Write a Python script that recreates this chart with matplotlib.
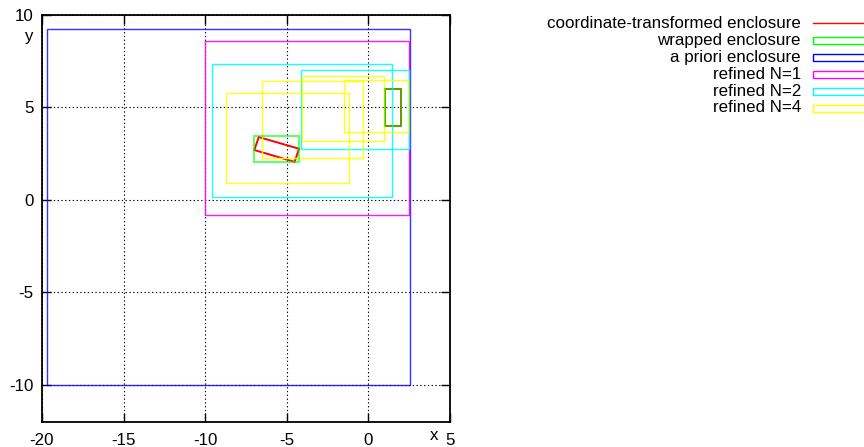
import matplotlib
matplotlib.use("Agg")
import matplotlib.pyplot as plt
from matplotlib.patches import Rectangle, Polygon

plt.rcParams['font.family'] = ['Liberation Sans', 'DejaVu Sans']
plt.rcParams['axes.unicode_minus'] = False

# ---- data (xmin, xmax, ymin, ymax) ----
transformed_x = [[-6.72, -4.25, -4.52, -6.99], [1.0, 2.0, 2.0, 1.0]]
transformed_y = [[3.39, 2.76, 2.05, 2.69], [6.0, 6.0, 4.0, 4.0]]
wrapped = [[-7.01, -4.23, 2.02, 3.43], [1.0, 2.0, 4.0, 6.0]]
apriori = [[-19.7, 2.55, -10.0, 9.25]]
refined1 = [[-10.0, 2.5, -0.83, 8.56]]
refined2 = [[-9.6, 1.43, 0.15, 7.35], [-4.11, 2.5, 2.76, 7.0]]
refined4 = [[-8.71, -1.21, 0.89, 5.75], [-6.5, -0.31, 2.25, 6.43],
            [-4.05, 0.96, 3.16, 6.7], [-1.48, 2.41, 3.64, 6.47]]

labels = ["coordinate-transformed enclosure", "wrapped enclosure",
          "a priori enclosure", "refined N=1", "refined N=2", "refined N=4"]
colors = ["#ff0000", "#00ff00", "#0000ff", "#ff00ff", "#00ffff", "#ffff00"]

xticks = [-20, -15, -10, -5, 0, 5]
yticks = [-10, -5, 0, 5, 10]
xlim = (-20, 5)
ylim = (-12, 10)

FS = 12.2
W, H = 864, 447
fig = plt.figure(figsize=(W / 100, H / 100), dpi=100)
ax = fig.add_axes([42 / W, 1 - 422 / H, 408 / W, (422 - 14.7) / H])
ax.set_xlim(*xlim)
ax.set_ylim(*ylim)
ax.set_xticks(xticks)
ax.set_yticks(yticks)
ax.tick_params(direction='in', length=6.5, width=1.0, top=True, right=True,
               labelsize=FS, pad=6, colors='black')
ax.tick_params(axis='x', pad=8)
ax.grid(True, linestyle=(0, (1.2, 2.2)), color='black', linewidth=0.8)
for s in ax.spines.values():
    s.set_linewidth(1.3)

# transformed (red)
for xs, ys in zip(transformed_x, transformed_y):
    ax.add_patch(Polygon(list(zip(xs, ys)), closed=True, fill=False,
                         edgecolor=colors[0], lw=1.4, zorder=2))

def rects(lst, color, alpha=1.0, z=3, lw=1.0):
    for x0, x1, y0, y1 in lst:
        ax.add_patch(Rectangle((x0, y0), x1 - x0, y1 - y0, fill=False,
                               edgecolor=color, lw=lw, alpha=alpha, zorder=z))

rects(wrapped, colors[1], alpha=0.6, z=4, lw=1.5)
rects(apriori, colors[2], alpha=0.8)
rects(refined1, colors[3], alpha=0.9)
rects(refined2, colors[4], alpha=0.9)
rects(refined4, colors[5], alpha=0.9)

# axis labels placed like gnuplot
fig.text(434 / W, 1 - 436 / H, "x", ha='center', va='center', fontsize=FS)
fig.text(28 / W, 1 - 37 / H, "y", ha='center', va='center', fontsize=FS)

# legend drawn manually (partially outside canvas like the original)
row_y = [23, 40.5, 57.5, 74.5, 91, 108]
for i, (lab, c) in enumerate(zip(labels, colors)):
    yy = 1 - row_y[i] / H
    fig.text(801 / W, yy, lab, ha='right', va='center', fontsize=FS)
    if i == 0:
        fig.add_artist(plt.Line2D([813 / W, 870 / W], [yy, yy], color=c,
                                  lw=1.0, transform=fig.transFigure))
    else:
        fig.add_artist(Rectangle((813 / W, yy - 3.5 / H), 60 / W, 7 / H,
                                 fill=False, edgecolor=c, lw=1.0,
                                 transform=fig.transFigure))

fig.savefig("out.png", dpi=100)
